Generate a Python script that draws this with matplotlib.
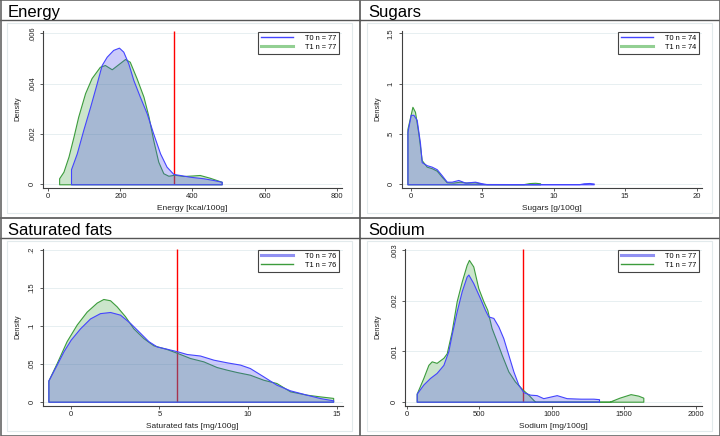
import matplotlib
matplotlib.use('Agg')
import matplotlib.pyplot as plt
from matplotlib.lines import Line2D

plt.rcParams['font.family'] = ['Liberation Sans', 'DejaVu Sans']

# ---- data (kernel density curves, T0 / T1) ----
energy_x_t0 = [63, 79, 97, 116, 134, 148, 162, 180, 196, 208, 222, 236, 254, 273,
               291, 310, 328, 347, 365, 393, 430, 458, 481]
energy_y_t0 = [0.0006, 0.00123, 0.00216, 0.00308, 0.0040, 0.00474, 0.00507, 0.00534,
               0.00543, 0.00527, 0.0048, 0.00414, 0.00348, 0.00282, 0.00202, 0.00123,
               0.0007, 0.00041, 0.00037, 0.0003, 0.00024, 0.00017, 0.0001]
energy_x_t1 = [30, 42, 56, 70, 83, 102, 120, 143, 157, 176, 194, 213, 226, 245, 264,
               278, 291, 305, 319, 333, 350, 375, 400, 420, 448, 481]
energy_y_t1 = [0.00024, 0.0005, 0.0011, 0.0019, 0.00269, 0.00362, 0.00422, 0.00467,
               0.00474, 0.00457, 0.00477, 0.00498, 0.00487, 0.00421, 0.00348, 0.00269,
               0.00176, 0.0009, 0.00044, 0.00034, 0.00038, 0.00033, 0.00035, 0.00037,
               0.00026, 0.0001]

sugars_x_t0 = [-0.23, 0, 0.19, 0.42, 0.65, 0.77, 1.12, 1.47, 1.82, 2.17, 2.52, 2.87,
               3.33, 3.8, 4.5, 4.97, 5.3, 8.0, 11.8, 12.1, 12.5, 12.8]
sugars_y_t0 = [0.52, 0.69, 0.69, 0.64, 0.41, 0.22, 0.19, 0.175, 0.15, 0.09, 0.026, 0.026,
               0.043, 0.017, 0.026, 0.01, 0.002, 0.002, 0.002, 0.01, 0.013, 0.008]
sugars_x_t1 = [-0.23, 0.12, 0.3, 0.54, 0.77, 1.12, 1.47, 1.82, 2.17, 2.52, 2.98, 3.45,
               3.9, 4.5, 5.1, 7.9, 8.3, 8.7, 9.05]
sugars_y_t1 = [0.55, 0.77, 0.72, 0.5, 0.24, 0.175, 0.16, 0.135, 0.075, 0.02, 0.017, 0.026,
               0.017, 0.02, 0.003, 0.002, 0.012, 0.015, 0.01]

satfat_x_t0 = [-1.26, -0.79, -0.41, 0, 0.53, 1.09, 1.65, 2.22, 2.78, 3.35, 3.91, 4.38,
               4.85, 5.41, 6.02, 6.54, 7.29, 8.05, 8.8, 9.55, 10.1, 10.86, 11.6, 12.37,
               13.3, 14.06, 14.8]
satfat_y_t0 = [0.028, 0.049, 0.0665, 0.082, 0.097, 0.11, 0.117, 0.1185, 0.115, 0.104,
               0.091, 0.08, 0.073, 0.07, 0.0665, 0.063, 0.061, 0.0555, 0.052, 0.049,
               0.0445, 0.0335, 0.0225, 0.015, 0.0093, 0.0048, 0.0018]
satfat_x_t1 = [-1.26, -0.79, -0.23, 0.34, 0.9, 1.47, 1.84, 2.22, 2.59, 3.06, 3.53, 4.1,
               4.66, 5.41, 6.02, 6.73, 7.48, 8.23, 8.8, 9.36, 10.1, 10.86, 11.6, 12.37,
               13.3, 14.06, 14.8]
satfat_y_t1 = [0.028, 0.051, 0.08, 0.102, 0.119, 0.131, 0.1357, 0.134, 0.126, 0.113,
               0.097, 0.084, 0.0745, 0.0696, 0.0643, 0.0577, 0.0533, 0.0458, 0.0423,
               0.0392, 0.0357, 0.029, 0.0247, 0.0137, 0.0093, 0.007, 0.005]

sodium_x_t0 = [65, 111, 157, 203, 250, 284, 307, 342, 377, 411, 423, 457, 504, 538, 561,
               596, 631, 665, 700, 735, 769, 804, 850, 896, 942, 1035, 1104, 1200, 1289,
               1328]
sodium_y_t0 = [0.00016, 0.00034, 0.00047, 0.00057, 0.00073, 0.001, 0.00133, 0.00179,
               0.00219, 0.00248, 0.00252, 0.00235, 0.00205, 0.00182, 0.00169, 0.00166,
               0.00149, 0.00126, 0.00093, 0.0006, 0.00034, 0.00019, 0.00014, 0.00013,
               0.00007, 0.00013, 0.00007, 0.00006, 0.00006, 0.00005]
sodium_x_t1 = [65, 111, 146, 169, 203, 250, 273, 307, 342, 377, 411, 427, 457, 492, 527,
               554, 584, 619, 654, 700, 746, 799, 838, 885, 1400, 1470, 1547, 1600, 1635]
sodium_y_t1 = [0.00016, 0.00047, 0.00073, 0.0008, 0.00077, 0.00087, 0.00096, 0.00139,
               0.00199, 0.00238, 0.00271, 0.00281, 0.00268, 0.00225, 0.00199, 0.00182,
               0.00146, 0.0012, 0.00093, 0.0006, 0.0004, 0.00024, 0.00014, 0.0, 0.0,
               0.00008, 0.00015, 0.00012, 0.00008]

titles = ['Energy', 'Sugars', 'Saturated fats', 'Sodium']
xlabels = ['Energy [kcal/100g]', 'Sugars [g/100g]', 'Saturated fats [mg/100g]',
           'Sodium [mg/100g]']
xticks = [[0, 200, 400, 600, 800], [0, 5, 10, 15, 20], [0, 5, 10, 15],
          [0, 500, 1000, 1500, 2000]]
yticks = [[0, 0.002, 0.004, 0.006], [0, 0.5, 1, 1.5], [0, 0.05, 0.1, 0.15, 0.2],
          [0, 0.001, 0.002, 0.003]]
ytick_labels = [['0', '.002', '.004', '.006'], ['0', '.5', '1', '1.5'],
                ['0', '.05', '.1', '.15', '.2'], ['0', '.001', '.002', '.003']]
n_t0 = [77, 74, 76, 77]
n_t1 = [77, 74, 76, 77]
cutoffs = [350, None, 6, 800]
curves = [(energy_x_t0, energy_y_t0, energy_x_t1, energy_y_t1),
          (sugars_x_t0, sugars_y_t0, sugars_x_t1, sugars_y_t1),
          (satfat_x_t0, satfat_y_t0, satfat_x_t1, satfat_y_t1),
          (sodium_x_t0, sodium_y_t0, sodium_x_t1, sodium_y_t1)]

# ---- layout (pixels) ----
W, H = 720, 436
# panel offset, axes left/right, x pixel<->value anchors, y pixel<->value anchors
layout = [
    dict(ox=0, oy=0, left=43, right=342, xp=(48.3, 336.7), yp=(184.3, 33.3), thick='T1'),
    dict(ox=360, oy=0, left=41.7, right=341.7, xp=(50.7, 336.7), yp=(184.3, 33.3), thick='T1'),
    dict(ox=0, oy=218, left=42.7, right=342.7, xp=(70.7, 336.7), yp=(183.7, 32.3), thick='T0'),
    dict(ox=360, oy=218, left=45, right=341.7, xp=(47.3, 336), yp=(183.7, 32.3), thick='T0'),
]
TOP, BOT = 30.5, 188.3

BLUE = '#4444ff'
GREEN = '#3c9c3c'
BLUE_FILL = (70/255, 70/255, 235/255, 0.28)
GREEN_FILL = (70/255, 165/255, 70/255, 0.28)
AXC = '#404040'


def remap(p0, p1, v0, v1, p):
    return v0 + (p - p0) * (v1 - v0) / (p1 - p0)


fig = plt.figure(figsize=(7.2, 4.36), dpi=100)
bg = fig.add_axes([0, 0, 1, 1])
bg.set_xlim(0, W)
bg.set_ylim(H, 0)
bg.axis('off')

# panel frames
for L in layout:
    ox, oy = L['ox'], L['oy']
    bg.plot([ox + 7, ox + 352, ox + 352, ox + 7, ox + 7],
            [oy + 23, oy + 23, oy + 213, oy + 213, oy + 23], color='#e2eaec', lw=0.8)
    bg.plot([ox, ox + 360], [oy + 20, oy + 20], color='#555555', lw=1.0)
bg.plot([360, 360], [0, H], color='#555555', lw=1.2)
bg.plot([0, W], [218, 218], color='#555555', lw=1.2)
bg.plot([0.5, W - 0.5, W - 0.5, 0.5, 0.5], [0.5, 0.5, H - 0.5, H - 0.5, 0.5],
        color='#666666', lw=1.2)

for i, L in enumerate(layout):
    ox, oy = L['ox'], L['oy']
    bg.text(ox + 8, oy + 16.5, titles[i], fontsize=12, va='baseline', ha='left', color='black')

    left, right = ox + L['left'], ox + L['right']
    ax = fig.add_axes([left / W, 1 - (oy + BOT) / H, (right - left) / W, (BOT - TOP) / H])
    ax.patch.set_alpha(0)

    xt, yt = xticks[i], yticks[i]
    xp0, xp1 = L['xp']
    yp0, yp1 = L['yp']
    ax.set_xlim(remap(xp0, xp1, xt[0], xt[-1], L['left']),
                remap(xp0, xp1, xt[0], xt[-1], L['right']))
    ax.set_ylim(remap(yp0, yp1, yt[0], yt[-1], BOT),
                remap(yp0, yp1, yt[0], yt[-1], TOP))

    x0, y0, x1, y1 = curves[i]
    ax.fill_between(x1, y1, 0, facecolor=GREEN_FILL, edgecolor=GREEN, lw=0.8, zorder=2)
    ax.fill_between(x0, y0, 0, facecolor=BLUE_FILL, edgecolor=BLUE, lw=0.8, zorder=3)
    if cutoffs[i] is not None:
        ax.vlines(cutoffs[i], 0, ax.get_ylim()[1], color='red', lw=1.0, zorder=1.5)

    ax.set_xticks(xt)
    ax.set_yticks(yt)
    ax.set_yticklabels(ytick_labels[i], rotation=90, va='center')
    ax.set_axisbelow(True)
    ax.yaxis.grid(True, color='#e3ecef', lw=0.6)
    for s in ['top', 'right']:
        ax.spines[s].set_visible(False)
    for s in ['left', 'bottom']:
        ax.spines[s].set_color(AXC)
        ax.spines[s].set_linewidth(0.8)
    ax.tick_params(axis='both', length=2.0, width=0.6, color=AXC, labelsize=5.5,
                   labelcolor='#222222')
    ax.tick_params(axis='y', pad=3.0)
    ax.tick_params(axis='x', pad=1.6)

    hpx = BOT - TOP
    wpx = L['right'] - L['left']
    ax.set_xlabel(xlabels[i], fontsize=6.0, color='#222222', va='center')
    ax.xaxis.set_label_coords(0.5, -(208 - BOT) / hpx)
    ax.set_ylabel('Density', fontsize=5.3, color='#222222', va='center')
    ax.yaxis.set_label_coords(-(L['left'] - 18.3) / wpx, (BOT - 108.5) / hpx)

    if L['thick'] == 'T1':
        h0 = Line2D([], [], color=BLUE, lw=1.0)
        h1 = Line2D([], [], color='#92cf92', lw=2.2)
    else:
        h0 = Line2D([], [], color='#9090f2', lw=2.2)
        h1 = Line2D([], [], color=GREEN, lw=1.0)
    leg = ax.legend([h0, h1], ['T0 n = %d' % n_t0[i], 'T1 n = %d' % n_t1[i]],
                    loc='upper right',
                    bbox_to_anchor=((339.3 - L['left']) / wpx, 1 - (31.7 - TOP) / hpx),
                    borderaxespad=0, fontsize=5.3, handlelength=4.4, handletextpad=1.6,
                    labelspacing=0.28, borderpad=0.4, fancybox=False, framealpha=1,
                    edgecolor='#444444')
    leg.get_frame().set_linewidth(0.8)

fig.savefig('out.png', dpi=100)
